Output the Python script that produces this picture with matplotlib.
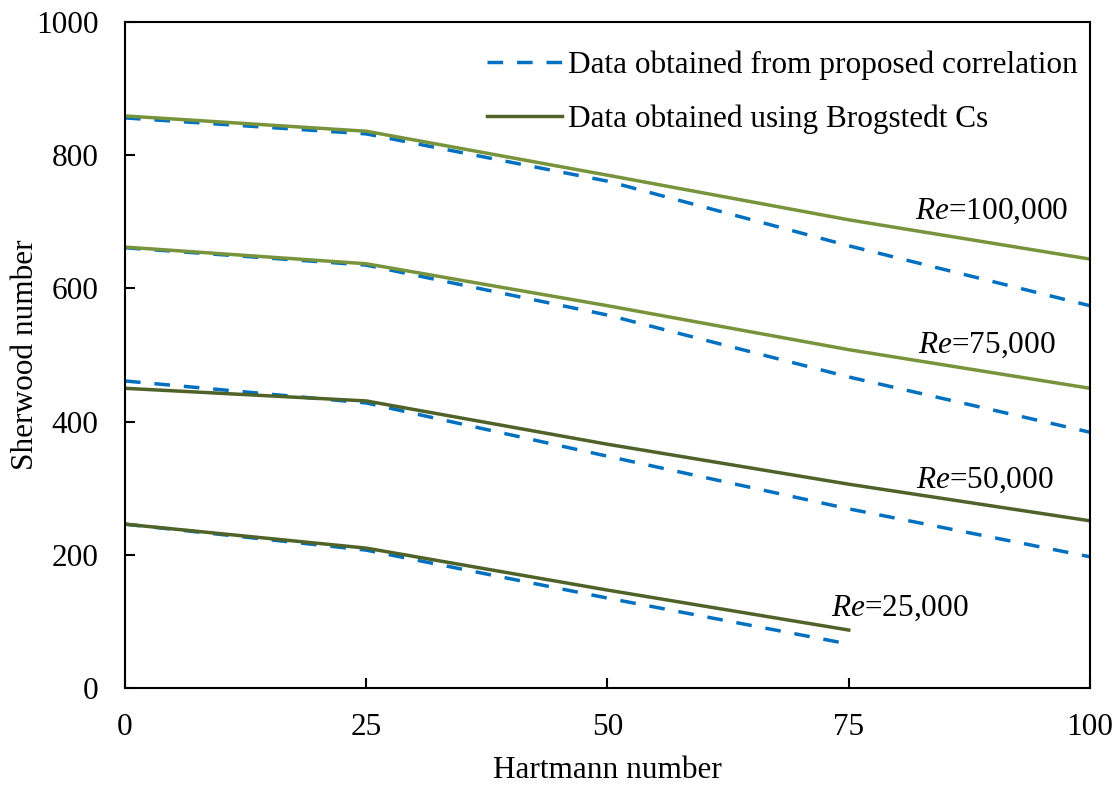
import matplotlib
matplotlib.use("Agg")
import matplotlib.pyplot as plt

plt.rcParams['font.family'] = ['Liberation Serif', 'DejaVu Serif']
plt.rcParams['mathtext.fontset'] = 'custom'
plt.rcParams['mathtext.rm'] = 'Liberation Serif'
plt.rcParams['mathtext.it'] = 'Liberation Serif:italic'

# Hartmann number
ha = [0, 25, 50, 75, 100]

# Sherwood number, proposed correlation (dashed)
corr_100k = [856, 832, 761, 664, 574]
corr_75k = [661, 635, 560, 467, 384]
corr_50k = [461, 428, 348, 269, 197]
corr_25k = [246, 207, 135, 66]

# Sherwood number, Brogstedt Cs (solid)
brog_100k = [859, 836, 770, 703, 644]
brog_75k = [662, 637, 574, 508, 450]
brog_50k = [450, 431, 366, 306, 251]
brog_25k = [246, 210, 147, 87]

labels = ['100,000', '75,000', '50,000', '25,000']

blue = '#0070C0'
light_green = '#77933C'
dark_green = '#4F6228'

fig = plt.figure(figsize=(11.2, 7.86), dpi=100)
ax = fig.add_axes([0.1116, 0.1247, 0.8616, 0.8473])

dash = (0, (4.5, 4))
lw = 2.5

ax.plot(ha, corr_100k, color=blue, lw=lw, ls=dash,
        label='Data obtained from proposed correlation')
ax.plot(ha, corr_75k, color=blue, lw=lw, ls=dash)
ax.plot(ha, corr_50k, color=blue, lw=lw, ls=dash)
ax.plot(ha[:4], corr_25k, color=blue, lw=lw, ls=dash)

ax.plot(ha, brog_100k, color=light_green, lw=lw)
ax.plot(ha, brog_75k, color=light_green, lw=lw)
ax.plot(ha, brog_50k, color=dark_green, lw=lw,
        label='Data obtained using Brogstedt Cs')
ax.plot(ha[:4], brog_25k, color=dark_green, lw=lw)

fs = 22.5
ax.text(97.7, 716, r'$\it{Re}$=' + labels[0], ha='right', va='center', fontsize=fs)
ax.text(96.4, 515, r'$\it{Re}$=' + labels[1], ha='right', va='center', fontsize=fs)
ax.text(96.2, 312, r'$\it{Re}$=' + labels[2], ha='right', va='center', fontsize=fs)
ax.text(87.4, 120, r'$\it{Re}$=' + labels[3], ha='right', va='center', fontsize=fs)

ax.set_xlim(0, 100)
ax.set_ylim(0, 1000)
ax.set_xticks([0, 25, 50, 75, 100])
ax.set_yticks([0, 200, 400, 600, 800, 1000])
ax.tick_params(direction='in', length=7, width=1.5, labelsize=fs)
ax.tick_params(axis='y', pad=19)
ax.tick_params(axis='x', pad=18)
for s in ax.spines.values():
    s.set_linewidth(1.5)
    s.set_color('black')

ax.set_xlabel('Hartmann number', fontsize=fs, labelpad=10)
ax.set_ylabel('Sherwood number', fontsize=fs, labelpad=-3)

ax.legend(loc='upper right', bbox_to_anchor=(1.0005, 0.9756), frameon=False,
          fontsize=fs, handlelength=2.4, handletextpad=0.2,
          labelspacing=0.77, borderaxespad=0)

fig.savefig('out.png', dpi=100)
